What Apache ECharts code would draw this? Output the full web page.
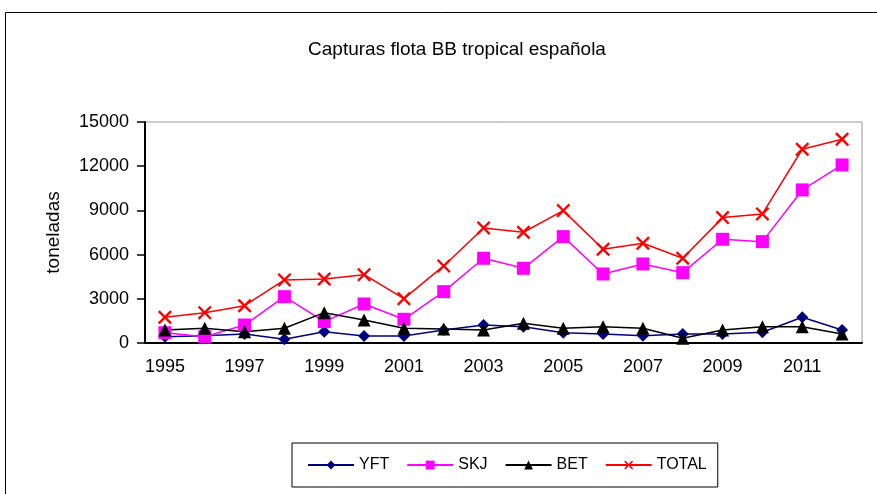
<!DOCTYPE html>
<html><head><meta charset="utf-8">
<script src="https://cdn.jsdelivr.net/npm/echarts@6/dist/echarts.min.js"></script>
<style>html,body{margin:0;padding:0;background:#fff}#c{width:877px;height:494px}</style>
</head><body><div id="c"></div>
<script>
const years = ['1995','1996','1997','1998','1999','2000','2001','2002','2003','2004','2005','2006','2007','2008','2009','2010','2011','2012'];
const yft = [430,500,610,250,770,475,475,880,1220,1110,700,610,500,610,610,725,1745,880];
const skj = [700,430,1220,3145,1450,2650,1610,3485,5750,5070,7220,4685,5365,4775,7040,6880,10390,12085];
const bet = [880,1000,770,1000,2060,1560,1000,950,880,1335,1000,1110,1000,320,880,1110,1110,610];
const total = [1745,2060,2530,4280,4345,4640,3010,5230,7810,7515,8985,6360,6770,5750,8510,8760,13150,13830];
const yTicks = {min:0, max:15000, interval:3000};

const xPath = 'path://M0,12L12,0L50,38L88,0L100,12L62,50L100,88L88,100L50,62L12,100L0,88L38,50Z';
const font = 'Liberation Sans, Arial, sans-serif';
const chart = echarts.init(document.getElementById('c'));
function s(name, data, color, symbol, size){
  return {name, type:'line', data, symbol, symbolSize:size, showAllSymbol:true,
    lineStyle:{color, width:1.5}, itemStyle:{color}, animation:false};
}
chart.setOption({
  animation:false,
  graphic:[{type:'rect', shape:{x:5.5,y:12.5,width:880,height:490}, style:{fill:null, stroke:'#000', lineWidth:1}, z:-1}],
  title:{text:'Capturas flota BB tropical española', left:452, top:35, textAlign:'center',
    textStyle:{fontFamily:font, fontSize:19, fontWeight:'normal', color:'#000'}},
  grid:{left:145, right:15, top:122, bottom:151, show:true, borderColor:'#999', borderWidth:1},
  legend:{left:292, top:443, itemWidth:46, itemHeight:11, itemGap:17,
    borderColor:'#000', borderWidth:1, padding:[14,11,14,15],
    textStyle:{fontFamily:font, fontSize:16, color:'#000'},
    data:['YFT','SKJ','BET','TOTAL']},
  xAxis:{type:'category', data:years, boundaryGap:true,
    axisLine:{lineStyle:{color:'#000', width:2}},
    axisTick:{alignWithLabel:false, interval:0, length:5, lineStyle:{color:'#000', width:1.5}},
    axisLabel:{interval:1, color:'#000', fontFamily:font, fontSize:18, margin:15}},
  yAxis:{type:'value', min:yTicks.min, max:yTicks.max, interval:yTicks.interval,
    name:'toneladas', nameLocation:'middle', nameGap:82, nameRotate:90,
    nameTextStyle:{fontFamily:font, fontSize:19, color:'#000'},
    axisLine:{show:true, lineStyle:{color:'#000', width:2}},
    axisTick:{show:true, length:8, lineStyle:{color:'#000', width:1.5}},
    splitLine:{show:false},
    axisLabel:{color:'#000', fontFamily:font, fontSize:18, margin:16, formatter:v=>String(v)}},
  series:[
    s('YFT', yft, '#000080', 'diamond', 12),
    s('SKJ', skj, '#ff00ff', 'rect', 13),
    s('BET', bet, '#000000', 'triangle', 13),
    s('TOTAL', total, '#ff0000', xPath, 14)
  ]
});
</script></body></html>
